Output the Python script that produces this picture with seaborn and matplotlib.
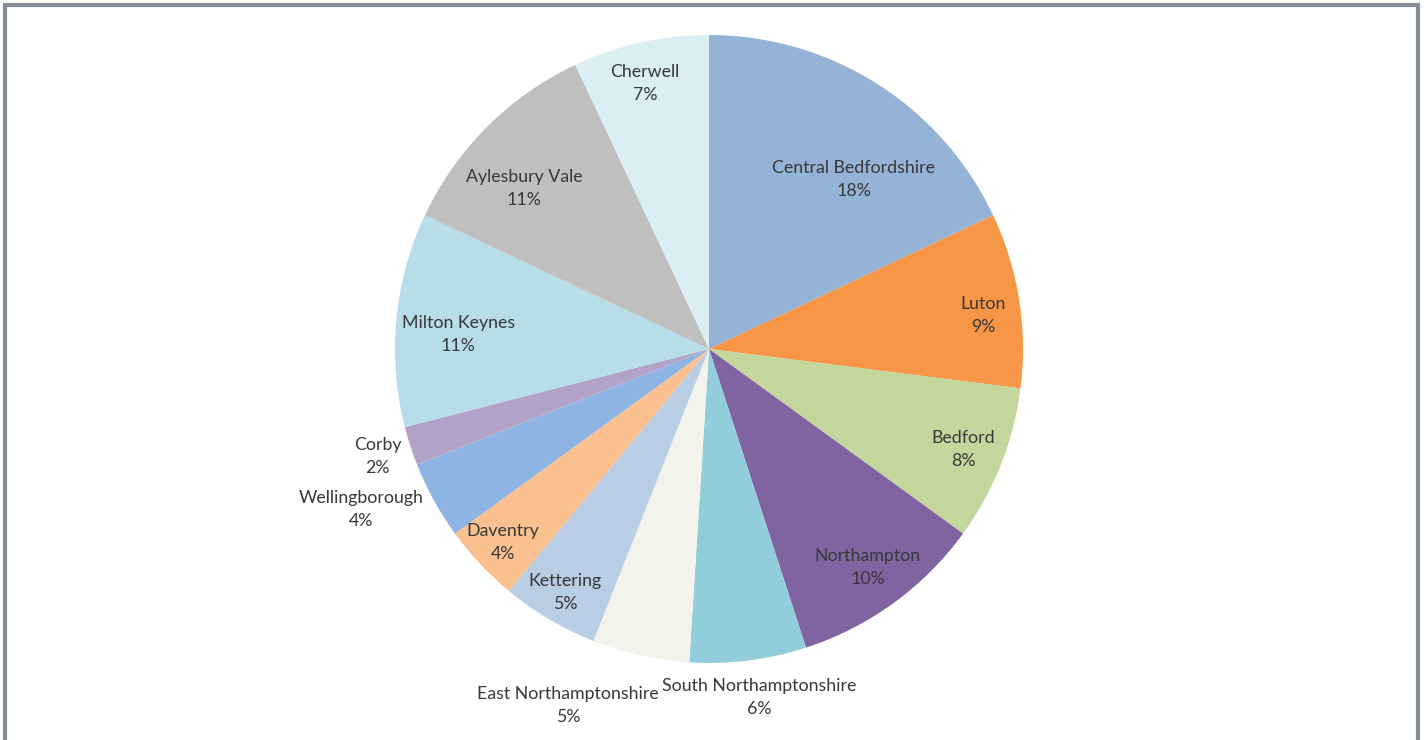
import numpy as np
import matplotlib
matplotlib.use("Agg")
import matplotlib.pyplot as plt
import seaborn as sns

sns.set_theme(style="white")
plt.rcParams["font.family"] = ["Lato", "DejaVu Sans"]

districts = [
    "Central Bedfordshire", "Luton", "Bedford", "Northampton",
    "South Northamptonshire", "East Northamptonshire", "Kettering",
    "Daventry", "Wellingborough", "Corby", "Milton Keynes",
    "Aylesbury Vale", "Cherwell",
]
shares = [18, 9, 8, 10, 6, 5, 5, 4, 4, 2, 11, 11, 7]

colors = [
    "#95b3d7", "#f79646", "#c3d69b", "#8064a2", "#92cddc", "#f3f3ec",
    "#b9cde5", "#fac090", "#8eb4e3", "#b3a2c7", "#b7dde8", "#bfbfbf",
    "#dbeef4",
]

# label placement: (radius as fraction of pie radius, angular nudge in degrees)
label_layout = [
    (0.71, -8), (0.88, -2), (0.87, 0), (0.86, 0), (1.12, 1), (1.22, -9),
    (0.90, 0), (0.90, 0), (1.22, -4), (1.11, 0), (0.80, 2), (0.78, 4),
    (0.87, 1),
]

W, H, DPI = 1426, 740, 100
cx, cy, R = 709, 349, 314

fig = plt.figure(figsize=(W / DPI, H / DPI), dpi=DPI)
ax = fig.add_axes([0, 0, 1, 1])

wedges, _ = ax.pie(
    shares, colors=colors, startangle=90, counterclock=False,
    radius=1.0, wedgeprops=dict(linewidth=0),
)

total = float(sum(shares))
for w, name, val, (rf, nudge) in zip(wedges, districts, shares, label_layout):
    mid = np.deg2rad((w.theta1 + w.theta2) / 2 + nudge)
    ax.text(rf * np.cos(mid), rf * np.sin(mid),
            f"{name}\n{round(100 * val / total):d}%",
            ha="center", va="center", fontsize=12.8, color="#383838",
            linespacing=1.55)

ax.set_xlim(-cx / R, (W - cx) / R)
ax.set_ylim(-(H - cy) / R, cy / R)
ax.set_aspect("auto")
ax.axis("off")

# chart-area frame (open at the bottom edge)
frame = dict(color="#838d98", linewidth=3, solid_capstyle="butt")
fig.add_artist(plt.Line2D([4.5 / W, 4.5 / W], [0, 1 - 3 / H], transform=fig.transFigure, **frame))
fig.add_artist(plt.Line2D([3 / W, 1 - 6 / W], [1 - 4.5 / H, 1 - 4.5 / H], transform=fig.transFigure, **frame))
fig.add_artist(plt.Line2D([1 - 8.5 / W, 1 - 8.5 / W], [0, 1 - 3 / H], transform=fig.transFigure, **frame))

fig.savefig("out.png", dpi=DPI, facecolor="white")
